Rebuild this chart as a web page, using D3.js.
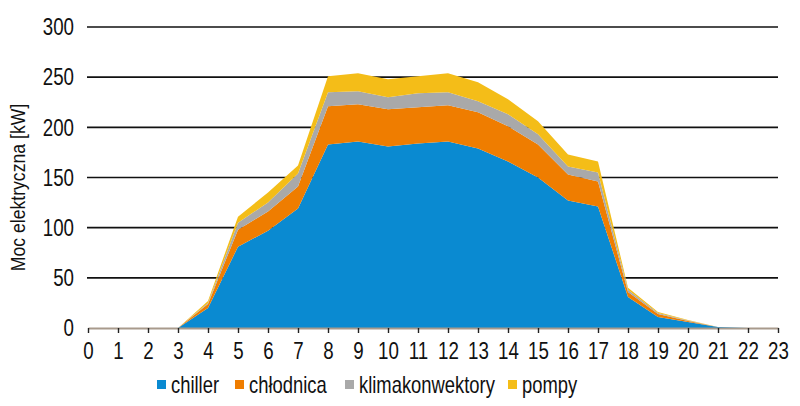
<!DOCTYPE html>
<html>
<head>
<meta charset="utf-8">
<script src="https://cdn.jsdelivr.net/npm/d3@7"></script>
<style>
  body { margin: 0; background: #fff; }
  svg { display: block; }
</style>
</head>
<body>
<div id="chart"></div>
<script>
var fontFamily = "'Liberation Sans', Arial, sans-serif";

// data
var hours = [0,1,2,3,4,5,6,7,8,9,10,11,12,13,14,15,16,17,18,19,20,21,22,23];
var chiller        = [0,0,0,0,20,81,97,119,183,186,181,184,186,179,166,150,127,121,31,11,6,1,0,0];
var chlodnica      = [0,0,0,0,4,17,19,22,38,37,37,36,36,36,35,33,26,25,5,3,1,0,0,0];
var klimakonw      = [0,0,0,0,1,7,9,13,14,13,12,14,13,11,12,10,8,9,2,1,0.5,0,0,0];
var pompy          = [0,0,0,0,2,6,10,8,16,18,18,17,19,19,15,13,12,11,2,1,0.5,0,0,0];
var yTicks = [0,50,100,150,200,250,300];
var seriesNames = ["chiller", "chłodnica", "klimakonwektory", "pompy"];
var seriesColors = ["#0a8ad1", "#ef7d00", "#a9a9a9", "#f4bd18"];

var width = 800, height = 406;
var margin = {top: 27, right: 22, bottom: 78, left: 88};

// squeeze text horizontally, the original uses a condensed face
function condense(sel, origin, k) {
  sel.style("transform-box", "fill-box")
     .style("transform-origin", origin)
     .style("transform", "scaleX(" + k + ")");
}

var svg = d3.select("#chart").append("svg")
  .attr("width", width)
  .attr("height", height);

var x = d3.scaleLinear().domain([0, 23]).range([margin.left, width - margin.right]);
var y = d3.scaleLinear().domain([0, 300]).range([height - margin.bottom, margin.top]);

// table for the stack
var table = hours.map(function(h, i) {
  return { hour: h, "chiller": chiller[i], "chłodnica": chlodnica[i],
           "klimakonwektory": klimakonw[i], "pompy": pompy[i] };
});
var stacked = d3.stack().keys(seriesNames)(table);

// grid lines
svg.append("g")
  .selectAll("line")
  .data(yTicks.filter(function(d){ return d > 0; }))
  .enter()
  .append("line")
    .attr("x1", x(0) - 1)
    .attr("x2", x(23))
    .attr("y1", function(d){ return y(d); })
    .attr("y2", function(d){ return y(d); })
    .attr("stroke", "#111")
    .attr("stroke-width", 1.6);

// areas
var area = d3.area()
  .x(function(d){ return x(d.data.hour); })
  .y0(function(d){ return y(d[0]); })
  .y1(function(d){ return y(d[1]); });

svg.append("g")
  .selectAll("path")
  .data(stacked)
  .enter()
  .append("path")
    .attr("d", area)
    .attr("fill", function(d, i){ return seriesColors[i]; });

// x axis
var xAxis = svg.append("g")
  .attr("transform", "translate(0," + y(0) + ")")
  .call(d3.axisBottom(x).tickValues(hours).tickSize(5).tickSizeOuter(0).tickPadding(9));
xAxis.select(".domain").attr("stroke", "#a89a8c").attr("stroke-width", 2);
xAxis.selectAll(".tick line").attr("stroke", "#222").attr("stroke-width", 1.4);
xAxis.selectAll("text")
  .attr("font-family", fontFamily)
  .attr("font-size", 24)
  .attr("fill", "#111")
  .call(condense, "center", 0.78);

// y axis labels
var yAxis = svg.append("g")
  .attr("transform", "translate(" + (x(0) - 14) + ",0)")
  .call(d3.axisLeft(y).tickValues(yTicks).tickSize(0).tickPadding(0));
yAxis.select(".domain").remove();
yAxis.selectAll("text")
  .attr("font-family", fontFamily)
  .attr("font-size", 24)
  .attr("fill", "#111")
  .call(condense, "right center", 0.78);

// y axis title
svg.append("g")
  .attr("transform", "translate(25," + ((y(0) + y(300)) / 2 + 10) + ") rotate(-90)")
  .append("text")
    .attr("text-anchor", "middle")
    .attr("font-family", fontFamily)
    .attr("font-size", 21)
    .attr("fill", "#111")
    .text("Moc elektryczna [kW]")
    .call(condense, "center", 0.84);

// legend
var legendX = [157, 235, 345, 508];
var legend = svg.append("g").attr("transform", "translate(0,385)");
legend.selectAll("rect")
  .data(seriesNames)
  .enter()
  .append("rect")
    .attr("x", function(d, i){ return legendX[i]; })
    .attr("y", -5)
    .attr("width", 9)
    .attr("height", 9)
    .attr("fill", function(d, i){ return seriesColors[i]; });
legend.selectAll("text")
  .data(seriesNames)
  .enter()
  .append("text")
    .attr("x", function(d, i){ return legendX[i] + 14; })
    .attr("y", 0)
    .attr("dy", "0.35em")
    .attr("font-family", fontFamily)
    .attr("font-size", 23)
    .attr("fill", "#111")
    .text(function(d){ return d; })
    .call(condense, "left center", 0.8);
</script>
</body>
</html>
